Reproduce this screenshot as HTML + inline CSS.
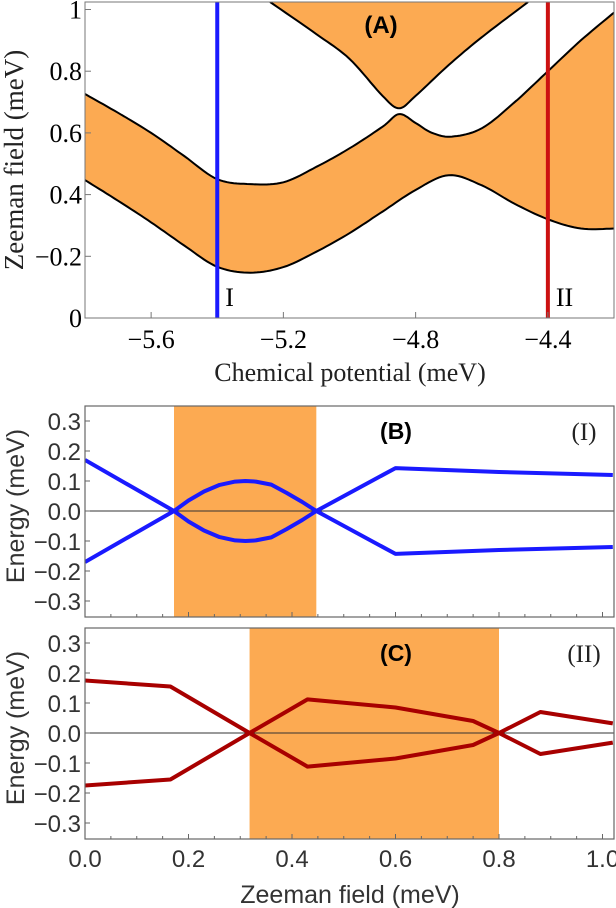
<!DOCTYPE html>
<html><head><meta charset="utf-8"><style>
html,body{margin:0;padding:0;background:#fff;}
svg{display:block;}
.serif{font-family:"Liberation Serif",serif;}
.sans{font-family:"Liberation Sans",sans-serif;}
</style></head><body>
<svg id="fig" width="616" height="908" viewBox="0 0 616 908" xmlns="http://www.w3.org/2000/svg">
<defs>
<clipPath id="clipA"><rect x="85" y="2" width="529" height="316"/></clipPath>
<clipPath id="clipB"><rect x="85" y="406" width="529" height="211"/></clipPath>
<clipPath id="clipC"><rect x="85" y="628" width="529" height="211"/></clipPath>
</defs>
<g id="gA"></g>
<g id="gB"></g>
<g id="gC"></g>
</svg>
<script>
// Panel A data (chemical potential, Zeeman field)
const lowBandLowerMu = [-5.8,-5.7,-5.6,-5.5,-5.4,-5.3,-5.2,-5.1,-5.0,-4.9,-4.8,-4.7,-4.6,-4.5,-4.4,-4.3,-4.2];
const lowBandLowerV  = [0.447,0.38,0.31,0.235,0.166,0.147,0.165,0.215,0.275,0.345,0.415,0.463,0.43,0.37,0.32,0.29,0.29];
const lowBandUpperMu = [-5.8,-5.7,-5.6,-5.5,-5.4,-5.3,-5.2,-5.1,-5.0,-4.9,-4.85,-4.8,-4.75,-4.69,-4.6,-4.5,-4.4,-4.3,-4.2];
const lowBandUpperV  = [0.726,0.665,0.6,0.525,0.45,0.434,0.44,0.49,0.55,0.62,0.661,0.632,0.6,0.588,0.615,0.7,0.8,0.9,0.99];
const vBandMu = [-5.24,-5.1,-5.0,-4.9,-4.85,-4.8,-4.7,-4.6,-4.46];
const vBandV  = [1.024,0.92,0.84,0.72,0.68,0.72,0.82,0.91,1.024];
const markerMu = [-5.4,-4.4];
const markerLabels = ["I","II"];
const aXTicks = [-5.6,-5.2,-4.8,-4.4];
const aXTickLabels = ["\u22125.6","\u22125.2","\u22124.8","\u22124.4"];
const aYTicks = [0,0.2,0.4,0.6,0.8,1];
const aYTickLabels = ["0","\u22120.2","0.4","0.6","0.8","1"];
// Panel B data
const bBand = [0.172,0.447];
const bX = [0,0.172,0.2,0.23,0.26,0.29,0.31,0.33,0.36,0.39,0.42,0.447,0.6,0.8,1.02];
const bUpper = [0.17,0,0.035,0.065,0.087,0.098,0.1,0.098,0.088,0.06,0.03,0,0.143,0.13,0.12];
// Panel C data
const cBand = [0.318,0.80];
const cX = [0,0.165,0.318,0.43,0.6,0.75,0.8,0.88,1.02];
const cUpper = [0.175,0.155,0,-0.112,-0.085,-0.04,0,0.07,0.032];
const eTicks = [-0.3,-0.2,-0.1,0,0.1,0.2,0.3];
const eTickLabels = ["\u22120.3","\u22120.2","\u22120.1","0.0","0.1","0.2","0.3"];
const zTicks = [0,0.2,0.4,0.6,0.8,1.0];
const zTickLabels = ["0.0","0.2","0.4","0.6","0.8","1.0"];

const NS="http://www.w3.org/2000/svg";
function mk(parent,tag,attrs,text){const e=document.createElementNS(NS,tag);for(const k in attrs)e.setAttribute(k,attrs[k]);if(text!==undefined)e.textContent=text;parent.appendChild(e);return e;}
function crPts(pts){
  const out=[];for(let i=0;i<pts.length-1;i++){const p0=pts[Math.max(i-1,0)],p1=pts[i],p2=pts[i+1],p3=pts[Math.min(i+2,pts.length-1)];
  for(let t=0;t<1;t+=0.1){const t2=t*t,t3=t2*t;
   out.push([0.5*((2*p1[0])+(-p0[0]+p2[0])*t+(2*p0[0]-5*p1[0]+4*p2[0]-p3[0])*t2+(-p0[0]+3*p1[0]-3*p2[0]+p3[0])*t3),
             0.5*((2*p1[1])+(-p0[1]+p2[1])*t+(2*p0[1]-5*p1[1]+4*p2[1]-p3[1])*t2+(-p0[1]+3*p1[1]-3*p2[1]+p3[1])*t3)]);}}
  out.push(pts[pts.length-1]);return out;}
const ptsStr=a=>a.map(p=>p[0].toFixed(1)+","+p[1].toFixed(1)).join(" ");

// ---------- Panel A ----------
const gA=document.getElementById('gA');
const ax=m=>85+(m+5.8)/1.6*529, ay=v=>318-v*308.5;
const A=mk(gA,'g',{'clip-path':'url(#clipA)'});
const lo=crPts(lowBandLowerMu.map((m,i)=>[ax(m),ay(lowBandLowerV[i])]));
const up=crPts(lowBandUpperMu.map((m,i)=>[ax(m),ay(lowBandUpperV[i])]));
const band=mk(A,'polygon',{points:ptsStr(up.concat(lo.slice().reverse())),fill:'#fcaa52'});

const vb=crPts(vBandMu.map((m,i)=>[ax(m),ay(vBandV[i])]));
const vf=mk(A,'polygon',{points:ptsStr(vb.concat([[ax(vBandMu[vBandMu.length-1]),0],[ax(vBandMu[0]),0]])),fill:'#fcaa52'});

[[lo,'lower-band-lower-edge'],[up,'lower-band-upper-edge'],[vb,'upper-band-edge']].forEach(([p,n])=>{
 const l=mk(A,'polyline',{points:ptsStr(p),fill:'none',stroke:'#000','stroke-width':2});
 });
const mcol=['#1a1aff','#cc1111'];
markerMu.forEach((m,i)=>{
 const l=mk(A,'line',{x1:ax(m),x2:ax(m),y1:2,y2:318,stroke:mcol[i],'stroke-width':4});
 
 const t=mk(gA,'text',{x:ax(m)+8,y:306,'font-size':26,class:'serif'},markerLabels[i]);
 });
const frA=mk(gA,'rect',{x:85,y:2,width:529,height:316,fill:'none',stroke:'#777','stroke-width':1});

aXTicks.forEach((v,i)=>{mk(gA,'line',{x1:ax(v),x2:ax(v),y1:318,y2:312,stroke:'#777'});
 const t=mk(gA,'text',{x:ax(v),y:348,'font-size':26,'text-anchor':'middle',class:'serif'},aXTickLabels[i]);
 });
aYTicks.forEach((v,i)=>{mk(gA,'line',{x1:85,x2:91,y1:ay(v),y2:ay(v),stroke:'#777'});
 const t=mk(gA,'text',{x:82,y:ay(v)+9,'font-size':26,'text-anchor':'end',class:'serif'},aYTickLabels[i]);
 });
let t=mk(gA,'text',{x:350,y:381,'font-size':26,'text-anchor':'middle',class:'serif',fill:'#222'},'Chemical potential (meV)');

t=mk(gA,'text',{x:0,y:0,'font-size':27,'text-anchor':'middle',class:'serif',fill:'#222',transform:'translate(23,160) rotate(-90)'},'Zeeman field (meV)');

t=mk(gA,'text',{x:381,y:33,'font-size':24,'font-weight':'bold','text-anchor':'middle',class:'sans'},'(A)');


// ---------- Panels B and C ----------
const zx=z=>85+z/0.2*103.5;
function energyPanel(g,top,clip,bandR,xs,ups,col,lab,roman,showX){
 const ey=e=>top+105-e/0.1*30;
 const gc=mk(g,'g',{'clip-path':'url('+clip+')'});
 const r=mk(gc,'rect',{x:zx(bandR[0]),y:top,width:zx(bandR[1])-zx(bandR[0]),height:211,fill:'#fcaa52'});
 
 mk(gc,'line',{x1:85,x2:614,y1:ey(0),y2:ey(0),stroke:'#333','stroke-width':1});
 const lu=mk(gc,'polyline',{points:ptsStr(xs.map((x,i)=>[zx(x),ey(ups[i])])),fill:'none',stroke:col,'stroke-width':4,'stroke-linejoin':'round'});
 
 const ll=mk(gc,'polyline',{points:ptsStr(xs.map((x,i)=>[zx(x),ey(-ups[i])])),fill:'none',stroke:col,'stroke-width':4,'stroke-linejoin':'round'});
 
 const fr=mk(g,'rect',{x:85,y:top,width:529,height:211,fill:'none',stroke:'#666','stroke-width':1.2});
 
 eTicks.forEach((v,i)=>{mk(g,'line',{x1:85,x2:90,y1:ey(v),y2:ey(v),stroke:'#666'});
  const tt=mk(g,'text',{x:81,y:ey(v)+9,'font-size':24,'text-anchor':'end',class:'sans',fill:'#333'},eTickLabels[i]);
  });
 for(let z=0;z<=1.0001;z+=0.05){mk(g,'line',{x1:zx(z),x2:zx(z),y1:top+211,y2:top+211-(Math.abs(z*10-Math.round(z*10))<0.01&&Math.round(z*10)%2==0?5:3),stroke:'#666'});}
 if(showX){zTicks.forEach((v,i)=>{const tt=mk(g,'text',{x:zx(v),y:867,'font-size':24,'text-anchor':'middle',class:'sans',fill:'#333'},zTickLabels[i]);
  });}
 let a=mk(g,'text',{x:0,y:0,'font-size':25,'text-anchor':'middle',class:'sans',fill:'#333',transform:'translate(24,'+(top+100)+') rotate(-90)','xml:space':'preserve'},'Energy  (meV)');
 
 a=mk(g,'text',{x:396,y:top+33,'font-size':23,'font-weight':'bold','text-anchor':'middle',class:'sans'},lab);
 
 a=mk(g,'text',{x:584,y:top+34,'font-size':25,'text-anchor':'middle',class:'serif',fill:'#222'},roman);
 
}
energyPanel(document.getElementById('gB'),406,'#clipB',bBand,bX,bUpper,'#1a1aff','(B)','(I)',false);
energyPanel(document.getElementById('gC'),628,'#clipC',cBand,cX,cUpper,'#a80000','(C)','(II)',true);
t=mk(document.getElementById('gC'),'text',{x:350,y:903,'font-size':25,'text-anchor':'middle',class:'sans',fill:'#333'},'Zeeman field (meV)');

</script>
</body></html>
